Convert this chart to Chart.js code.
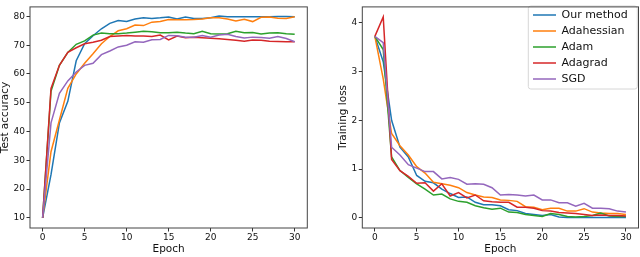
<!DOCTYPE html>
<html><head><meta charset="utf-8">
<script src="https://cdn.jsdelivr.net/npm/chart.js@4.4.1/dist/chart.umd.min.js"></script>
<style>
html,body{margin:0;padding:0;background:#fff;width:640px;height:257px;overflow:hidden}
canvas{position:absolute;top:0}
#c1{left:0}#c2{left:320px}
</style></head><body>
<canvas id="c1" width="320" height="257"></canvas>
<canvas id="c2" width="320" height="257"></canvas>
<script>
const epochs = [0,1,2,3,4,5,6,7,8,9,10,11,12,13,14,15,16,17,18,19,20,21,22,23,24,25,26,27,28,29,30];
const seriesNames = ['Our method','Adahessian','Adam','Adagrad','SGD'];
const seriesColors = ['#1f77b4','#ff7f0e','#2ca02c','#d62728','#9467bd'];
const xTicks = [0,5,10,15,20,25,30];
const accTicks = [10,20,30,40,50,60,70,80];
const lossTicks = [0,1,2,3,4];

const accOur  = [10,25,43,50.5,64.6,70.5,73.3,75.7,77.6,78.6,78.2,79.1,79.5,79.3,79.5,79.8,79.1,79.8,79.3,79.3,79.5,80.1,79.9,79.9,79.9,79.9,79.9,79.9,80.0,80.0,79.9];
const accAdah = [10,33,44,55,60,63.7,67,70.5,73,75,75.7,77,76.8,78,78.2,78.9,78.8,78.8,78.9,79.1,79.5,79.5,79.1,78.4,79,78.2,79.7,79.8,79.4,79.3,79.9];
const accAdam = [10,54,63,67.5,70.3,71.5,73.5,74.2,74,74,74.2,74.5,74.8,74.7,74.3,74.3,74.5,74.2,74,74.8,74,73.9,74,74.8,74.3,74.4,73.9,74.2,74.3,74,73.8];
const accAdag = [10,55,63,67.5,69.1,70.5,71,71.7,73,73.2,73.4,73.2,73.2,73,73.5,71.8,73.2,72.6,72.8,72.6,72.4,72.2,72,71.7,71.4,71.8,71.7,71.4,71.3,71.2,71.2];
const accSgd  = [10,43,53.3,57.6,60.7,63,63.7,66.7,68,69.4,70,71.2,71,71.9,72,73.4,73.3,72.8,72.8,73.4,72.8,73.5,73.8,73,72.5,72.8,72.7,72.4,73,72.3,71.2];

const lossOur  = [3.72,3.2,2.0,1.45,1.25,0.87,0.75,0.72,0.59,0.5,0.42,0.43,0.32,0.27,0.27,0.25,0.17,0.15,0.09,0.07,0.05,0.07,0.02,0.01,0.01,0.01,0.01,0.01,0.01,0.01,0.01];
const lossAdah = [3.72,2.85,1.73,1.48,1.29,1.05,0.92,0.73,0.7,0.67,0.62,0.52,0.47,0.43,0.42,0.37,0.36,0.34,0.23,0.22,0.17,0.2,0.2,0.14,0.14,0.19,0.12,0.1,0.09,0.09,0.07];
const lossAdam = [3.72,3.45,1.25,0.97,0.83,0.7,0.59,0.47,0.49,0.39,0.34,0.32,0.25,0.21,0.18,0.2,0.12,0.11,0.07,0.05,0.03,0.09,0.07,0.03,0.02,0.03,0.05,0.1,0.04,0.03,0.03];
const lossAdag = [3.72,4.12,1.2,0.97,0.85,0.71,0.72,0.55,0.7,0.45,0.52,0.41,0.47,0.35,0.33,0.32,0.32,0.22,0.22,0.2,0.15,0.14,0.11,0.1,0.09,0.07,0.05,0.06,0.05,0.05,0.04];
const lossSgd  = [3.72,3.59,1.45,1.29,1.09,1.02,0.95,0.95,0.8,0.83,0.79,0.69,0.7,0.69,0.62,0.47,0.48,0.47,0.45,0.47,0.37,0.37,0.31,0.31,0.24,0.3,0.2,0.2,0.19,0.14,0.12];

Chart.defaults.font.family = "'DejaVu Sans', sans-serif";
Chart.defaults.color = '#111';

function makeDatasets(seriesList){
  return seriesList.map((vals, i) => ({
    label: seriesNames[i],
    data: epochs.map((e, j) => ({x: e, y: vals[j]})),
    borderColor: seriesColors[i],
    backgroundColor: seriesColors[i],
    borderWidth: 1.5,
    pointRadius: 0,
    tension: 0,
    order: seriesList.length - 1 - i
  }));
}

const framePlugin = {
  id: 'frame',
  afterDatasetsDraw(chart){
    const {ctx, chartArea: a} = chart;
    ctx.save();
    ctx.strokeStyle = '#444';
    ctx.lineWidth = 1;
    ctx.strokeRect(a.left, a.top, a.right - a.left, a.bottom - a.top);
    ctx.restore();
  }
};

function tickSetter(arr){
  return function(scale){ scale.ticks = arr.map(v => ({value: v})); };
}

function makeScales(yTicks, yMin, yMax, yTitle, yWidth, yTitlePad){
  return {
    x: {
      type: 'linear', min: -1.5, max: 31.5,
      afterBuildTicks: tickSetter(xTicks),
      afterFit(s){ s.height = 29; },
      grid: {drawOnChartArea: false, drawTicks: true, tickLength: 3.5, color: '#333', lineWidth: 1},
      border: {display: false},
      ticks: {font: {size: 9}, padding: 0.5, color: '#111', maxRotation: 0, autoSkip: false},
      title: {display: true, text: 'Epoch', font: {size: 10.5, lineHeight: 1}, padding: {top: 0, bottom: 2.75}, color: '#111'}
    },
    y: {
      type: 'linear', min: yMin, max: yMax,
      afterBuildTicks: tickSetter(yTicks),
      afterFit(s){ s.width = yWidth; },
      grid: {drawOnChartArea: false, drawTicks: true, tickLength: 3.5, color: '#333', lineWidth: 1},
      border: {display: false},
      ticks: {font: {size: 9}, padding: 1.5, color: '#111', autoSkip: false},
      title: {display: true, text: yTitle, font: {size: 10.5, lineHeight: 1}, padding: {top: yTitlePad, bottom: 0}, color: '#111'}
    }
  };
}

new Chart(document.getElementById('c1'), {
  type: 'line',
  data: {datasets: makeDatasets([accOur, accAdah, accAdam, accAdag, accSgd])},
  options: {
    responsive: false, animation: false, devicePixelRatio: 1,
    layout: {padding: {left: 0, right: 12.7, top: 1.5, bottom: 0}},
    plugins: {legend: {display: false}, tooltip: {enabled: false}},
    scales: makeScales(accTicks, 6.5, 83.3, 'Test accuracy', 30, 0)
  },
  plugins: [framePlugin]
});

const legendPlacePlugin = {
  id: 'legendPlace',
  beforeDraw(chart){
    const L = chart.legend, a = chart.chartArea, ctx = chart.ctx;
    L.left = a.right - 110.5;
    L.right = L.left + 112;
    L.top = 4.5;
    L.bottom = a.bottom;
    const x = a.right - 110.2, y = 6, w = 109, h = 83, r = 2.5;
    ctx.save();
    ctx.beginPath();
    ctx.moveTo(x + r, y);
    ctx.arcTo(x + w, y, x + w, y + h, r);
    ctx.arcTo(x + w, y + h, x, y + h, r);
    ctx.arcTo(x, y + h, x, y, r);
    ctx.arcTo(x, y, x + w, y, r);
    ctx.closePath();
    ctx.fillStyle = 'rgba(255,255,255,0.8)';
    ctx.fill();
    ctx.strokeStyle = '#d6d6d6';
    ctx.lineWidth = 1;
    ctx.stroke();
    ctx.restore();
  }
};

new Chart(document.getElementById('c2'), {
  type: 'line',
  data: {datasets: makeDatasets([lossOur, lossAdah, lossAdam, lossAdag, lossSgd])},
  options: {
    responsive: false, animation: false, devicePixelRatio: 1,
    layout: {padding: {left: 0, right: 1.5, top: 1.5, bottom: 0}},
    plugins: {
      tooltip: {enabled: false},
      legend: {
        display: true, position: 'chartArea', align: 'start', fullSize: false,
        labels: {
          usePointStyle: true, pointStyle: 'line', pointStyleWidth: 23,
          font: {size: 11}, color: '#111', padding: 5,
          sort: (a, b) => a.datasetIndex - b.datasetIndex
        }
      }
    },
    scales: makeScales(lossTicks, -0.206, 4.324, 'Training loss', 42.3, 17.75)
  },
  plugins: [legendPlacePlugin, framePlugin]
});
</script>
</body></html>
